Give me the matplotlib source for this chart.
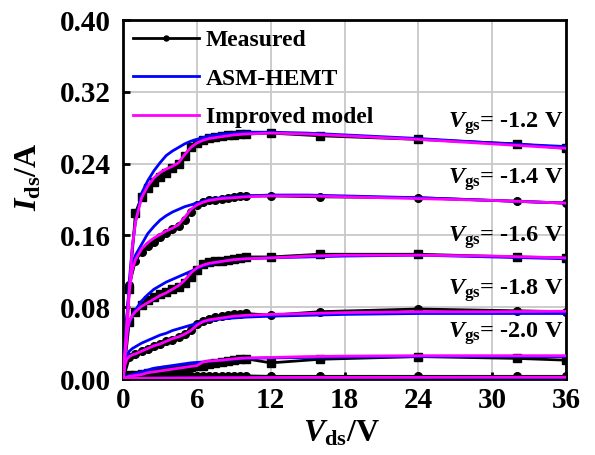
import numpy as np
import matplotlib
matplotlib.use("Agg")
import matplotlib.pyplot as plt

plt.rcParams['font.family'] = ['Liberation Serif', 'DejaVu Serif']
plt.rcParams['font.weight'] = 'bold'
plt.rcParams['mathtext.fontset'] = 'custom'
plt.rcParams['mathtext.rm'] = 'Liberation Serif:bold'
plt.rcParams['mathtext.it'] = 'Liberation Serif:italic:bold'
plt.rcParams['mathtext.bf'] = 'Liberation Serif:bold'

# Measured data (Vds in V, Ids in A)
vds_meas = [0, 0.5, 1.0, 1.5, 2.0, 2.5, 3.0, 3.5, 4.0, 4.5, 5.0, 5.5, 6.0, 6.5,
            7.0, 7.5, 8.0, 8.5, 9.0, 9.5, 10, 12, 16, 24, 32, 36]
meas_12 = [0, 0.100, 0.185, 0.203, 0.213, 0.220, 0.225, 0.230, 0.235, 0.240, 0.249, 0.258, 0.263, 0.266,
           0.268, 0.270, 0.271, 0.272, 0.272, 0.273, 0.273, 0.274, 0.271, 0.267, 0.262, 0.257]
meas_14 = [0, 0.105, 0.132, 0.142, 0.148, 0.153, 0.158, 0.163, 0.167, 0.170, 0.177, 0.186, 0.194, 0.197,
           0.199, 0.200, 0.201, 0.202, 0.203, 0.204, 0.204, 0.204, 0.203, 0.202, 0.198, 0.196]
meas_16 = [0, 0.064, 0.075, 0.082, 0.088, 0.091, 0.095, 0.097, 0.100, 0.103, 0.107, 0.114, 0.122, 0.128,
           0.130, 0.131, 0.132, 0.133, 0.134, 0.135, 0.136, 0.136, 0.139, 0.139, 0.136, 0.135]
meas_18 = [0, 0.024, 0.028, 0.031, 0.034, 0.037, 0.039, 0.042, 0.044, 0.047, 0.050, 0.055, 0.061, 0.065,
           0.067, 0.069, 0.070, 0.071, 0.072, 0.0725, 0.073, 0.071, 0.075, 0.078, 0.076, 0.075]
meas_20 = [0, 0.004, 0.005, 0.006, 0.007, 0.008, 0.009, 0.0095, 0.010, 0.011, 0.012, 0.013, 0.014, 0.015,
           0.017, 0.018, 0.019, 0.020, 0.021, 0.022, 0.0225, 0.018, 0.022, 0.025, 0.023, 0.021]
meas_22 = [0, 0.003, 0.003, 0.003, 0.0035, 0.0035, 0.0035, 0.0035, 0.0035, 0.0035, 0.0035, 0.0035, 0.0035, 0.0035,
           0.0035, 0.0035, 0.0035, 0.0035, 0.0035, 0.0035, 0.0035, 0.003, 0.003, 0.003, 0.003, 0.003]

# Model curves
vds_mod = [0, 0.15, 0.3, 0.5, 0.75, 1, 1.5, 2, 2.5, 3, 3.5, 4, 4.5, 5, 5.5, 6, 6.5, 7, 8, 9, 10,
           12, 15, 18, 24, 30, 36]
asm_12 = [0, 0.03, 0.065, 0.11, 0.148, 0.175, 0.207, 0.221, 0.232, 0.241, 0.249, 0.254, 0.258, 0.262,
          0.265, 0.267, 0.269, 0.271, 0.273, 0.274, 0.275, 0.275, 0.274, 0.272, 0.268, 0.263, 0.259]
imp_12 = [0, 0.025, 0.045, 0.10, 0.148, 0.175, 0.202, 0.215, 0.224, 0.230, 0.234, 0.237, 0.241, 0.250,
          0.258, 0.263, 0.266, 0.268, 0.270, 0.272, 0.273, 0.274, 0.273, 0.271, 0.267, 0.262, 0.257]
asm_14 = [0, 0.035, 0.07, 0.10, 0.125, 0.138, 0.150, 0.162, 0.170, 0.177, 0.182, 0.186, 0.189, 0.192,
          0.194, 0.196, 0.198, 0.200, 0.202, 0.203, 0.204, 0.205, 0.205, 0.204, 0.202, 0.199, 0.196]
imp_14 = [0, 0.03, 0.065, 0.098, 0.122, 0.133, 0.145, 0.152, 0.157, 0.161, 0.165, 0.168, 0.172, 0.180,
          0.189, 0.194, 0.197, 0.199, 0.201, 0.202, 0.203, 0.204, 0.204, 0.203, 0.201, 0.199, 0.196]
asm_16 = [0, 0.03, 0.05, 0.062, 0.071, 0.077, 0.087, 0.094, 0.100, 0.104, 0.108, 0.111, 0.114, 0.117,
          0.120, 0.123, 0.126, 0.128, 0.131, 0.133, 0.134, 0.135, 0.136, 0.137, 0.138, 0.136, 0.134]
imp_16 = [0, 0.03, 0.052, 0.064, 0.071, 0.075, 0.081, 0.085, 0.089, 0.093, 0.096, 0.100, 0.104, 0.110,
          0.118, 0.124, 0.127, 0.129, 0.131, 0.133, 0.134, 0.135, 0.137, 0.138, 0.138, 0.137, 0.135]
asm_18 = [0, 0.018, 0.026, 0.031, 0.034, 0.036, 0.040, 0.043, 0.046, 0.049, 0.051, 0.054, 0.056, 0.058,
          0.060, 0.062, 0.064, 0.065, 0.067, 0.068, 0.069, 0.070, 0.071, 0.072, 0.073, 0.073, 0.073]
imp_18 = [0, 0.016, 0.022, 0.025, 0.027, 0.028, 0.031, 0.034, 0.037, 0.039, 0.042, 0.045, 0.047, 0.050,
          0.054, 0.060, 0.064, 0.066, 0.068, 0.070, 0.071, 0.072, 0.073, 0.074, 0.075, 0.075, 0.0755]
asm_20 = [0, 0.002, 0.003, 0.004, 0.005, 0.006, 0.008, 0.010, 0.012, 0.013, 0.014, 0.015, 0.016, 0.017,
          0.018, 0.0185, 0.019, 0.020, 0.021, 0.022, 0.023, 0.0235, 0.024, 0.0245, 0.025, 0.025, 0.025]
imp_20 = [0, 0.001, 0.002, 0.003, 0.0035, 0.004, 0.005, 0.007, 0.008, 0.009, 0.010, 0.011, 0.012, 0.013,
          0.014, 0.015, 0.019, 0.020, 0.021, 0.0225, 0.0235, 0.024, 0.025, 0.0255, 0.026, 0.026, 0.026]
asm_22 = [0, 0.0002, 0.0003, 0.0004, 0.0005, 0.0006, 0.0007, 0.0008, 0.0009, 0.001, 0.001, 0.001, 0.001, 0.001,
          0.001, 0.001, 0.001, 0.001, 0.001, 0.001, 0.001, 0.0012, 0.0012, 0.0013, 0.0014, 0.0015, 0.0015]
imp_22 = [0, 0.0002, 0.0004, 0.0005, 0.0006, 0.0007, 0.0008, 0.0009, 0.001, 0.001, 0.0011, 0.0011, 0.0012, 0.0012,
          0.0013, 0.0013, 0.0014, 0.0014, 0.0015, 0.0015, 0.0016, 0.0017, 0.0018, 0.0018, 0.0019, 0.002, 0.002]

meas_all = [meas_12, meas_14, meas_16, meas_18, meas_20, meas_22]
asm_all = [asm_12, asm_14, asm_16, asm_18, asm_20, asm_22]
imp_all = [imp_12, imp_14, imp_16, imp_18, imp_20, imp_22]
markers = ['s', 'o', 's', 'o', 's', 'o']

vgs_labels = ['-1.2', '-1.4', '-1.6', '-1.8', '-2.0']
label_y = [0.285, 0.222, 0.158, 0.099, 0.051]

fig = plt.figure(figsize=(5.95, 4.55), dpi=100)
ax = fig.add_axes([0.207, 0.167, 0.744, 0.789])

for i in range(len(meas_all)):
    ax.plot(vds_meas, meas_all[i], color='black', lw=2, marker=markers[i], ms=5.5,
            label='Measured' if i == 1 else None, zorder=3)
for i in range(len(asm_all)):
    ax.plot(vds_mod, asm_all[i], color='#0000ff', lw=2,
            label='ASM-HEMT' if i == 0 else None, zorder=4)
for i in range(len(imp_all)):
    ax.plot(vds_mod, imp_all[i], color='#ff00ff', lw=2,
            label='Improved model' if i == 0 else None, zorder=5)

for lab, yy in zip(vgs_labels, label_y):
    ax.text(35.8, yy, r'$V_{\mathbf{gs}}$' + '= ' + lab + ' V', ha='right', va='center',
            fontsize=17.5, fontweight='bold', zorder=6)

ax.set_xlim(0, 36)
ax.set_ylim(0, 0.40)
ax.set_xticks([0, 6, 12, 18, 24, 30, 36])
ax.set_yticks([0.00, 0.08, 0.16, 0.24, 0.32, 0.40])
ax.set_yticklabels(['0.00', '0.08', '0.16', '0.24', '0.32', '0.40'])
ax.grid(True, color='#c8c8c8', lw=1.3)
ax.set_axisbelow(True)
ax.tick_params(direction='in', length=5, width=2, labelsize=21)
ax.tick_params(axis='y', pad=9)
ax.tick_params(axis='x', pad=6)
for sp in ax.spines.values():
    sp.set_linewidth(2)

ax.set_xlabel(r'$V_{\mathbf{ds}}$/V', fontsize=23, fontweight='bold')
ax.set_ylabel(r'$I_{\mathbf{ds}}$/A', fontsize=23, fontweight='bold')
ax.yaxis.set_label_coords(-0.18, 0.563)
ax.xaxis.set_label_coords(0.493, -0.112)

leg = ax.legend(loc='upper left', bbox_to_anchor=(0.0, 1.0), frameon=False, fontsize=17,
                handlelength=2.8, handletextpad=0.3, labelspacing=0.72, borderaxespad=0.2,
                borderpad=0.2, numpoints=1, markerscale=0.65)

plt.savefig('out.png', dpi=100)
